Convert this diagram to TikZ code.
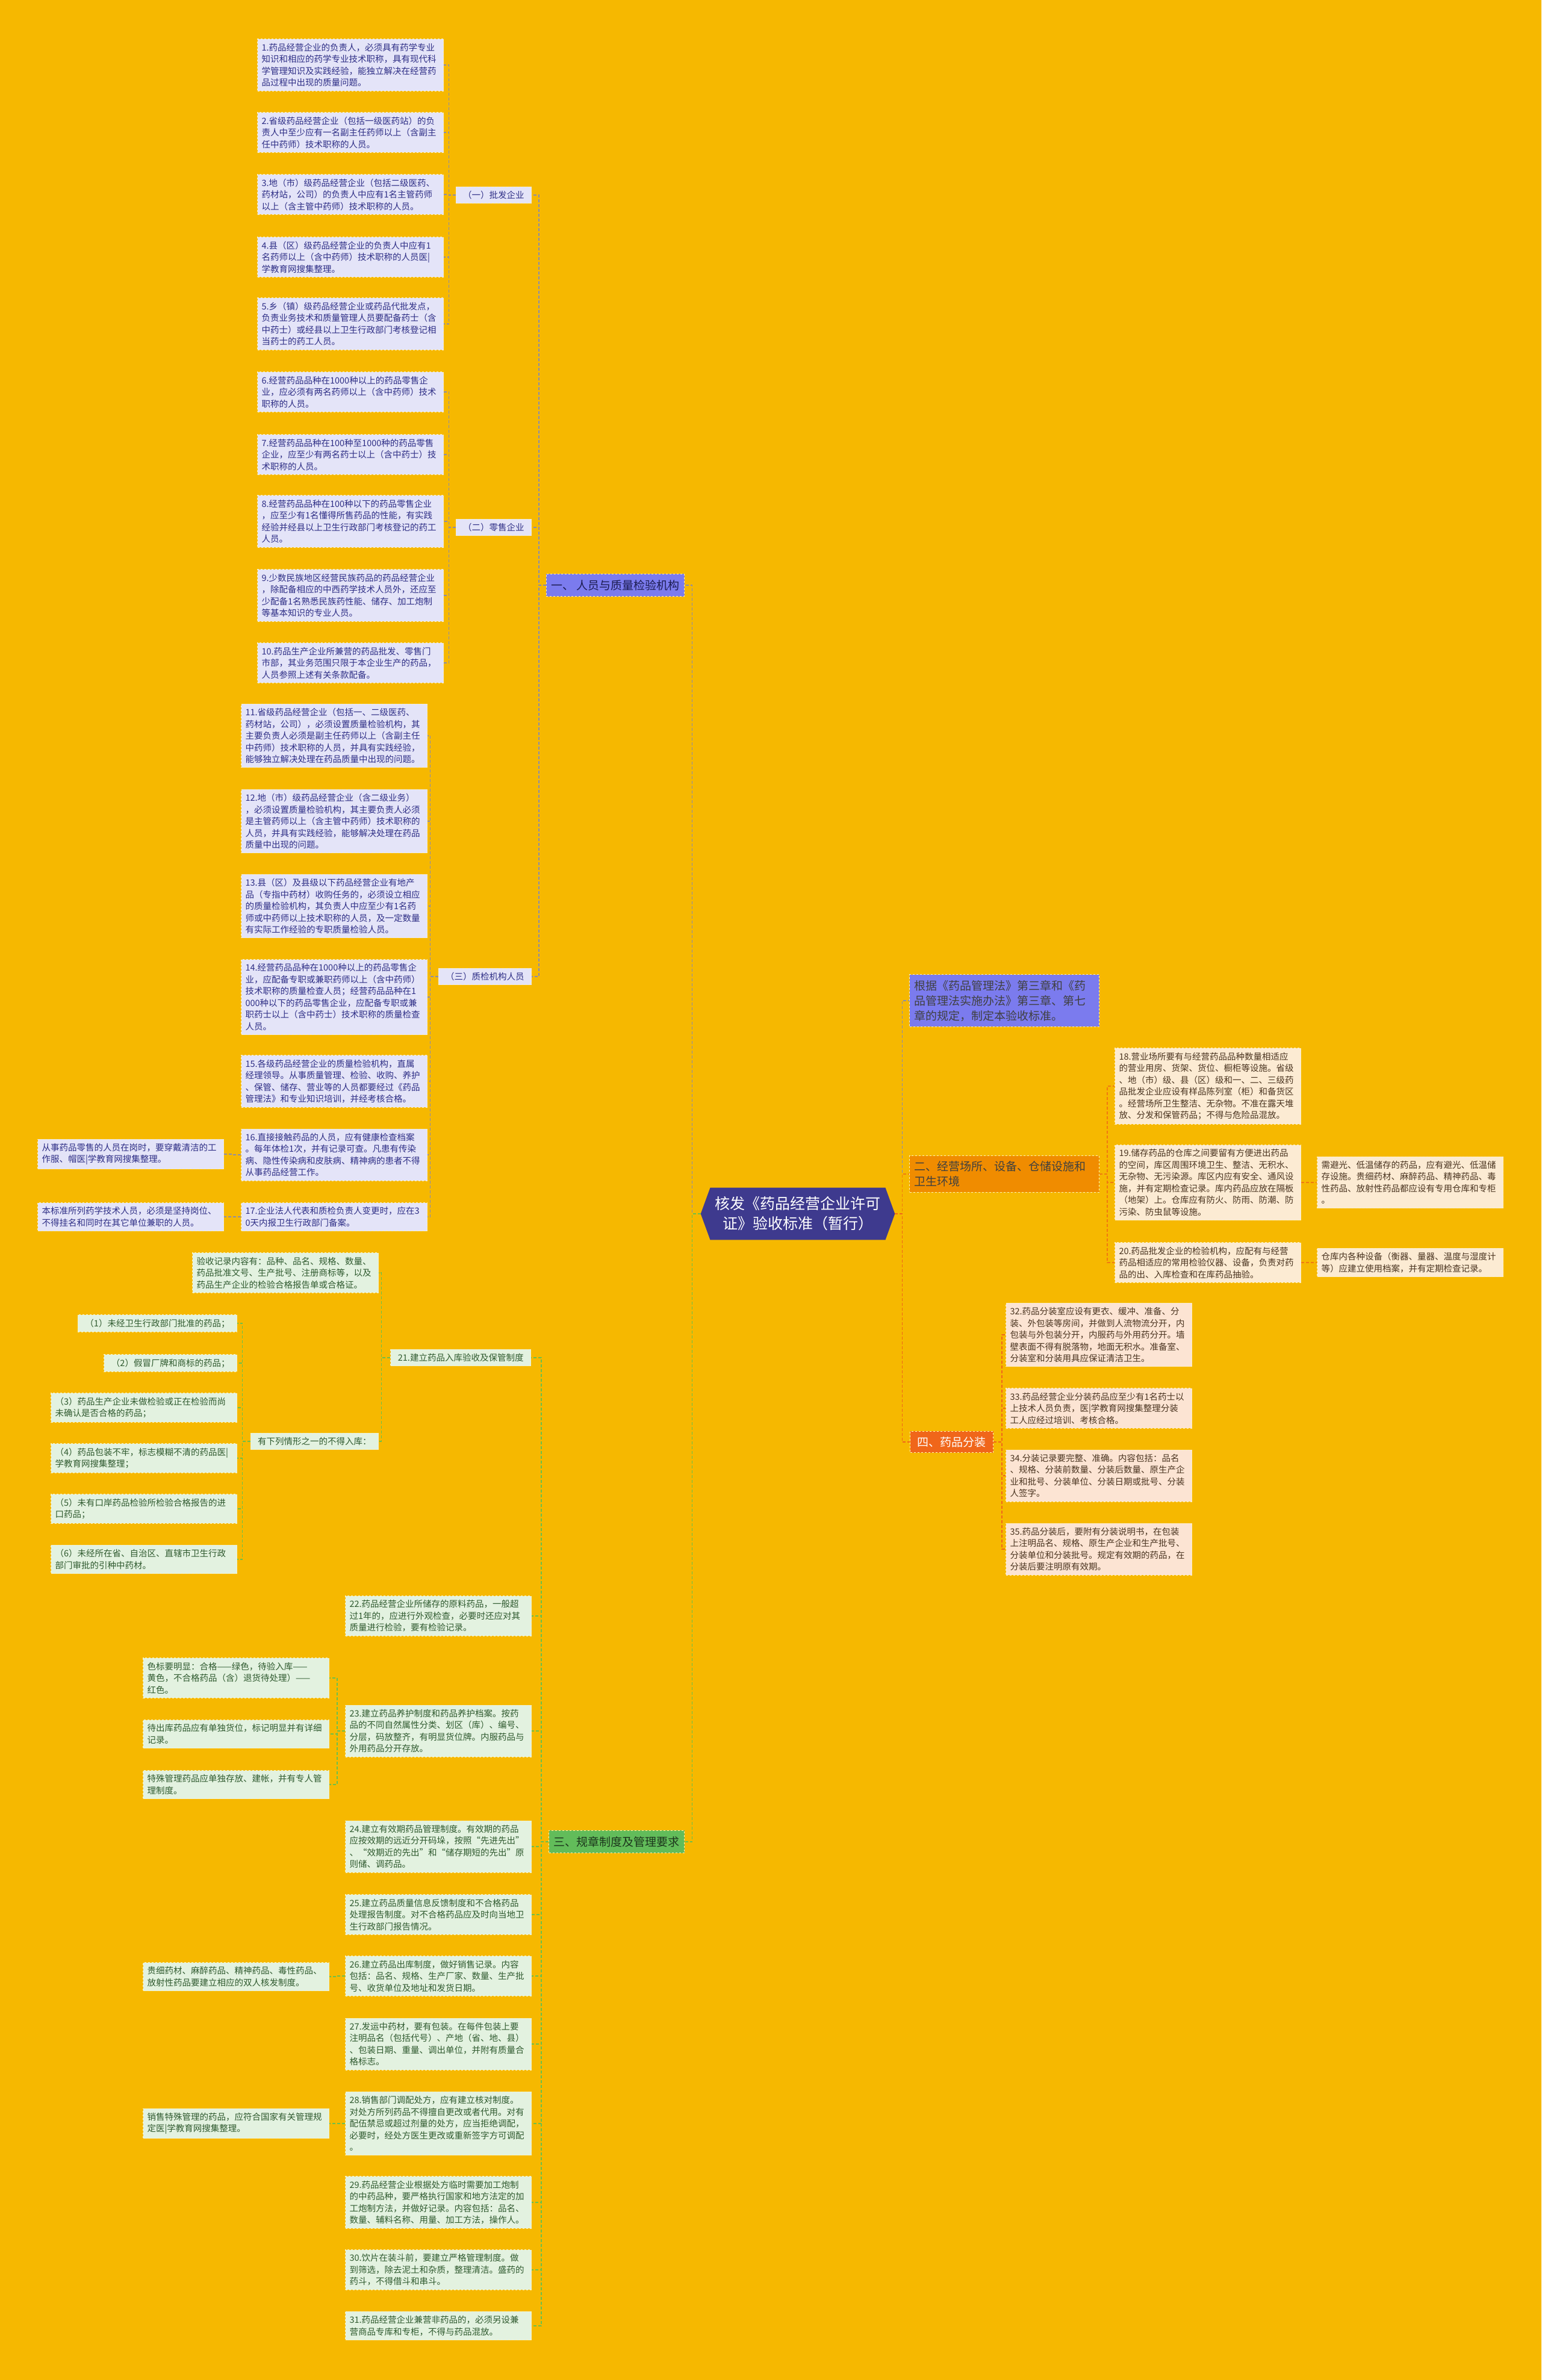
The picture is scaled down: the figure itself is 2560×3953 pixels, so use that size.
\documentclass[tikz,border=0pt]{standalone}
\usepackage{fontspec}
\setmainfont{Noto Sans CJK SC}
\definecolor{bgc}{HTML}{F6B800}
\definecolor{lavfill}{HTML}{E4E4F8}
\definecolor{lavtext}{HTML}{2E2E86}
\definecolor{peri}{HTML}{7B7BEE}
\definecolor{mintfill}{HTML}{E3F2E0}
\definecolor{minttext}{HTML}{2F5A2F}
\definecolor{greenlab}{HTML}{62BC5A}
\definecolor{creamfill}{HTML}{FCEBD3}
\definecolor{creamtext}{HTML}{4A3420}
\definecolor{peachfill}{HTML}{FCE4D3}
\definecolor{orangelab}{HTML}{F08C00}
\definecolor{redlab}{HTML}{F0661A}
\definecolor{rootc}{HTML}{3E3A8E}
\definecolor{grayline}{HTML}{8C8CAA}
\definecolor{greenline}{HTML}{6CC04A}
\definecolor{orangeline}{HTML}{F07A10}
\definecolor{boxedge}{HTML}{FFF3B8}
\usetikzlibrary{shapes.symbols}
\newcommand\boxfont{\fontsize{14.5}{19.5}\selectfont}
\newcommand\bigfont{\fontsize{19}{25}\selectfont}
\newcommand\rootfont{\fontsize{25}{33}\selectfont}
\begin{document}
\begin{tikzpicture}[x=1pt,y=-1pt]
    \tikzset{
        box/.style = {draw=boxedge, dashed, line width=1pt, font=\boxfont, align=left,
                      inner xsep=7pt, inner ysep=7pt},
        lav/.style = {box, fill=lavfill, text=lavtext, anchor=east},
        mint/.style = {box, fill=mintfill, text=minttext, anchor=east},
        cream/.style = {box, fill=creamfill, text=creamtext, anchor=west},
        peach/.style = {box, fill=peachfill, text=creamtext, anchor=west},
        wide/.style = {text width=295pt},
        sub/.style = {inner xsep=12pt, inner ysep=7pt},
        branch/.style = {font=\bigfont, inner xsep=8pt, inner ysep=10pt},
        yiline/.style = {draw=grayline, line width=1.5pt, dash pattern=on 5pt off 3pt},
        sanline/.style = {draw=greenline, line width=1.5pt, dash pattern=on 5pt off 3pt},
        erline/.style = {draw=orangeline, line width=1.5pt, dash pattern=on 5pt off 3pt},
        siline/.style = {draw=redlab, line width=1.5pt, dash pattern=on 5pt off 3pt}
    }

    \useasboundingbox (0,0) rectangle (2560,3953);
    \fill[bgc] (0,0) rectangle (2560,3953);

    % centre
    \node[signal, signal to=west and east, signal pointer angle=140, fill=rootc, text=white,
          font=\rootfont, align=center, inner xsep=8pt, inner ysep=15pt] (root) at (1325,2016)
        {核发《药品经营企业许可\\证》验收标准（暂行）};

    % one: staff
    \node[lav, branch, fill=peri, text=lavtext!60!black] (yi) at (1137,972) {一、~人员与质量检验机构};
    \node[lav, sub] (pf) at (883,324) {（一）批发企业};
    \node[lav, sub] (ls) at (883,876) {（二）零售企业};
    \node[lav, sub] (zj) at (883,1622) {（三）质检机构人员};

    \node[lav, wide] (b1) at (737,108) {1.药品经营企业的负责人，必须具有药学专业\\知识和相应的药学专业技术职称，具有现代科\\学管理知识及实践经验，能独立解决在经营药\\品过程中出现的质量问题。};
    \node[lav, wide] (b2) at (737,220) {2.省级药品经营企业（包括一级医药站）的负\\责人中至少应有一名副主任药师以上（含副主\\任中药师）技术职称的人员。};
    \node[lav, wide] (b3) at (737,323) {3.地（市）级药品经营企业（包括二级医药、\\药材站，公司）的负责人中应有1名主管药师\\以上（含主管中药师）技术职称的人员。};
    \node[lav, wide] (b4) at (737,427) {4.县（区）级药品经营企业的负责人中应有1\\名药师以上（含中药师）技术职称的人员医|\\学教育网搜集整理。};
    \node[lav, wide] (b5) at (737,538) {5.乡（镇）级药品经营企业或药品代批发点，\\负责业务技术和质量管理人员要配备药士（含\\中药士）或经县以上卫生行政部门考核登记相\\当药士的药工人员。};
    \node[lav, wide] (b6) at (737,651) {6.经营药品品种在1000种以上的药品零售企\\业，应必须有两名药师以上（含中药师）技术\\职称的人员。};
    \node[lav, wide] (b7) at (737,755) {7.经营药品品种在100种至1000种的药品零售\\企业，应至少有两名药士以上（含中药士）技\\术职称的人员。};
    \node[lav, wide] (b8) at (737,866) {8.经营药品品种在100种以下的药品零售企业\\，应至少有1名懂得所售药品的性能，有实践\\经验并经县以上卫生行政部门考核登记的药工\\人员。};
    \node[lav, wide] (b9) at (737,989) {9.少数民族地区经营民族药品的药品经营企业\\，除配备相应的中西药学技术人员外，还应至\\少配备1名熟悉民族药性能、储存、加工炮制\\等基本知识的专业人员。};
    \node[lav, wide] (b10) at (737,1101) {10.药品生产企业所兼营的药品批发、零售门\\市部，其业务范围只限于本企业生产的药品，\\人员参照上述有关条款配备。};

    \node[lav, wide] (b11) at (710,1222) {11.省级药品经营企业（包括一、二级医药、\\药材站，公司），必须设置质量检验机构，其\\主要负责人必须是副主任药师以上（含副主任\\中药师）技术职称的人员，并具有实践经验，\\能够独立解决处理在药品质量中出现的问题。};
    \node[lav, wide] (b12) at (710,1364) {12.地（市）级药品经营企业（含二级业务）\\，必须设置质量检验机构，其主要负责人必须\\是主管药师以上（含主管中药师）技术职称的\\人员，并具有实践经验，能够解决处理在药品\\质量中出现的问题。};
    \node[lav, wide] (b13) at (710,1505) {13.县（区）及县级以下药品经营企业有地产\\品（专指中药材）收购任务的，必须设立相应\\的质量检验机构，其负责人中应至少有1名药\\师或中药师以上技术职称的人员，及一定数量\\有实际工作经验的专职质量检验人员。};
    \node[lav, wide] (b14) at (710,1656) {14.经营药品品种在1000种以上的药品零售企\\业，应配备专职或兼职药师以上（含中药师）\\技术职称的质量检查人员；经营药品品种在1\\000种以下的药品零售企业，应配备专职或兼\\职药士以上（含中药士）技术职称的质量检查\\人员。};
    \node[lav, wide] (b15) at (710,1796) {15.各级药品经营企业的质量检验机构，直属\\经理领导。从事质量管理、检验、收购、养护\\、保管、储存、营业等的人员都要经过《药品\\管理法》和专业知识培训，并经考核合格。};
    \node[lav, wide] (b16) at (710,1918) {16.直接接触药品的人员，应有健康检查档案\\。每年体检1次，并有记录可查。凡患有传染\\病、隐性传染病和皮肤病、精神病的患者不得\\从事药品经营工作。};
    \node[lav, wide] (b17) at (710,2021) {17.企业法人代表和质检负责人变更时，应在3\\0天内报卫生行政部门备案。};
    \node[lav, wide] (n16) at (372,1917) {从事药品零售的人员在岗时，要穿戴清洁的工\\作服、帽医|学教育网搜集整理。};
    \node[lav, wide] (n17) at (372,2021) {本标准所列药学技术人员，必须是坚持岗位、\\不得挂名和同时在其它单位兼职的人员。};

    % three: rules
    \node[mint, branch, fill=greenlab, text=minttext!60!black] (san) at (1137,3059) {三、规章制度及管理要求};
    \node[mint, sub] (b21) at (882,2255) {21.建立药品入库验收及保管制度};
    \node[mint, wide] (yanshou) at (629,2114) {验收记录内容有：品种、品名、规格、数量、\\药品批准文号、生产批号、注册商标等，以及\\药品生产企业的检验合格报告单或合格证。};
    \node[mint, sub] (qingxing) at (629,2394) {有下列情形之一的不得入库：};
    \node[mint, sub] (q1) at (394,2198) {（1）未经卫生行政部门批准的药品；};
    \node[mint, sub] (q2) at (394,2264) {（2）假冒厂牌和商标的药品；};
    \node[mint, wide] (q3) at (394,2338) {（3）药品生产企业未做检验或正在检验而尚\\未确认是否合格的药品；};
    \node[mint, wide] (q4) at (394,2422) {（4）药品包装不牢，标志模糊不清的药品医|\\学教育网搜集整理；};
    \node[mint, wide] (q5) at (394,2506) {（5）未有口岸药品检验所检验合格报告的进\\口药品；};
    \node[mint, wide] (q6) at (394,2590) {（6）未经所在省、自治区、直辖市卫生行政\\部门审批的引种中药材。};

    \node[mint, wide] (b22) at (883,2684) {22.药品经营企业所储存的原料药品，一般超\\过1年的，应进行外观检查，必要时还应对其\\质量进行检验，要有检验记录。};
    \node[mint, wide] (b23) at (883,2875) {23.建立药品养护制度和药品养护档案。按药\\品的不同自然属性分类、划区（库）、编号、\\分层，码放整齐，有明显货位牌。内服药品与\\外用药品分开存放。};
    \node[mint, wide] (b24) at (883,3067) {24.建立有效期药品管理制度。有效期的药品\\应按效期的远近分开码垛，按照“先进先出”\\、“效期近的先出”和“储存期短的先出”原\\则储、调药品。};
    \node[mint, wide] (b25) at (883,3180) {25.建立药品质量信息反馈制度和不合格药品\\处理报告制度。对不合格药品应及时向当地卫\\生行政部门报告情况。};
    \node[mint, wide] (b26) at (883,3282) {26.建立药品出库制度，做好销售记录。内容\\包括：品名、规格、生产厂家、数量、生产批\\号、收货单位及地址和发货日期。};
    \node[mint, wide] (b27) at (883,3395) {27.发运中药材，要有包装。在每件包装上要\\注明品名（包括代号）、产地（省、地、县）\\、包装日期、重量、调出单位，并附有质量合\\格标志。};
    \node[mint, wide] (b28) at (883,3527) {28.销售部门调配处方，应有建立核对制度。\\对处方所列药品不得擅自更改或者代用。对有\\配伍禁忌或超过剂量的处方，应当拒绝调配，\\必要时，经处方医生更改或重新签字方可调配\\。};
    \node[mint, wide] (b29) at (883,3658) {29.药品经营企业根据处方临时需要加工炮制\\的中药品种，要严格执行国家和地方法定的加\\工炮制方法，并做好记录。内容包括：品名、\\数量、辅料名称、用量、加工方法，操作人。};
    \node[mint, wide] (b30) at (883,3770) {30.饮片在装斗前，要建立严格管理制度。做\\到筛选，除去泥土和杂质，整理清洁。盛药的\\药斗，不得借斗和串斗。};
    \node[mint, wide] (b31) at (883,3863) {31.药品经营企业兼营非药品的，必须另设兼\\营商品专库和专柜，不得与药品混放。};
    \node[mint, wide] (sebiao) at (547,2787) {色标要明显：合格——绿色，待验入库——\\黄色，不合格药品（含）退货待处理）——\\红色。};
    \node[mint, wide] (daichu) at (547,2880) {待出库药品应有单独货位，标记明显并有详细\\记录。};
    \node[mint, wide] (teshu) at (547,2964) {特殊管理药品应单独存放、建帐，并有专人管\\理制度。};
    \node[mint, wide] (guixi) at (547,3283) {贵细药材、麻醉药品、精神药品、毒性药品、\\放射性药品要建立相应的双人核发制度。};
    \node[mint, wide] (xiaoshou) at (547,3527) {销售特殊管理的药品，应符合国家有关管理规\\定医|学教育网搜集整理。};

    % right side
    \node[cream, fill=peri, text=black!75, font=\bigfont, text width=299pt, inner xsep=8pt, inner ysep=9pt] (genju) at (1510,1662) {根据《药品管理法》第三章和《药\\品管理法实施办法》第三章、第七\\章的规定，制定本验收标准。};
    \node[cream, fill=orangelab, text=black!75, font=\bigfont, text width=299pt, inner xsep=8pt, inner ysep=9pt] (er) at (1510,1950) {二、经营场所、设备、仓储设施和\\卫生环境};
    \node[cream, wide] (b18) at (1851,1804) {18.营业场所要有与经营药品品种数量相适应\\的营业用房、货架、货位、橱柜等设施。省级\\、地（市）级、县（区）级和一、二、三级药\\品批发企业应设有样品陈列室（柜）和备货区\\。经营场所卫生整洁、无杂物。不准在露天堆\\放、分发和保管药品；不得与危险品混放。};
    \node[cream, wide] (b19) at (1851,1964) {19.储存药品的仓库之间要留有方便进出药品\\的空间，库区周围环境卫生、整洁、无积水、\\无杂物、无污染源。库区内应有安全、通风设\\施，并有定期检查记录。库内药品应放在隔板\\（地架）上。仓库应有防火、防雨、防潮、防\\污染、防虫鼠等设施。};
    \node[cream, wide] (b20) at (1851,2097) {20.药品批发企业的检验机构，应配有与经营\\药品相适应的常用检验仪器、设备，负责对药\\品的出、入库检查和在库药品抽验。};
    \node[cream, wide] (n19) at (2187,1964) {需避光、低温储存的药品，应有避光、低温储\\存设施。贵细药材、麻醉药品、精神药品、毒\\性药品、放射性药品都应设有专用仓库和专柜\\。};
    \node[cream, wide] (n20) at (2187,2097) {仓库内各种设备（衡器、量器、温度与湿度计\\等）应建立使用档案，并有定期检查记录。};

    \node[peach, fill=redlab, text=white, font=\bigfont, inner xsep=12pt, inner ysep=9pt] (si) at (1511,2395) {四、药品分装};
    \node[peach, wide] (b32) at (1670,2217) {32.药品分装室应设有更衣、缓冲、准备、分\\装、外包装等房间，并做到人流物流分开，内\\包装与外包装分开，内服药与外用药分开。墙\\壁表面不得有脱落物，地面无积水。准备室、\\分装室和分装用具应保证清洁卫生。};
    \node[peach, wide] (b33) at (1670,2339) {33.药品经营企业分装药品应至少有1名药士以\\上技术人员负责，医|学教育网搜集整理分装\\工人应经过培训、考核合格。};
    \node[peach, wide] (b34) at (1670,2451) {34.分装记录要完整、准确。内容包括：品名\\、规格、分装前数量、分装后数量、原生产企\\业和批号、分装单位、分装日期或批号、分装\\人签字。};
    \node[peach, wide] (b35) at (1670,2573) {35.药品分装后，要附有分装说明书，在包装\\上注明品名、规格、原生产企业和生产批号、\\分装单位和分装批号。规定有效期的药品，在\\分装后要注明原有效期。};

    % connectors
    \draw[yiline] (root.west) -- ++(-14,0) |- (yi.east);
    \draw[sanline] (root.west) -- ++(-14,0) |- (san.east);
    \draw[yiline] (root.east) -- ++(12,0) |- (genju.west);
    \draw[erline] (root.east) -- ++(12,0) |- (er.west);
    \draw[siline] (root.east) -- ++(12,0) |- (si.west);

    \foreach \c in {pf,ls,zj}
        \draw[yiline] (yi.west) -- ++(-12,0) |- (\c.east);
    \foreach \c in {b1,b2,b3,b4,b5}
        \draw[yiline] (pf.west) -- ++(-11,0) |- (\c.east);
    \foreach \c in {b6,b7,b8,b9,b10}
        \draw[yiline] (ls.west) -- ++(-11,0) |- (\c.east);
    \foreach \c in {b11,b12,b13,b14,b15,b16,b17}
        \draw[yiline] (zj.west) -- ++(-13,0) |- (\c.east);
    \draw[yiline] (b16.west) -- ++(-14,0) |- (n16.east);
    \draw[yiline] (b17.west) -- ++(-14,0) |- (n17.east);

    \foreach \c in {b21,b22,b23,b24,b25,b26,b27,b28,b29,b30,b31}
        \draw[sanline] (san.west) -- ++(-12,0) |- (\c.east);
    \foreach \c in {yanshou,qingxing}
        \draw[sanline] (b21.west) -- ++(-15,0) |- (\c.east);
    \foreach \c in {q1,q2,q3,q4,q5,q6}
        \draw[sanline] (qingxing.west) -- ++(-13,0) |- (\c.east);
    \foreach \c in {sebiao,daichu,teshu}
        \draw[sanline] (b23.west) -- ++(-13,0) |- (\c.east);
    \draw[sanline] (b26.west) -- ++(-13,0) |- (guixi.east);
    \draw[sanline] (b28.west) -- ++(-13,0) |- (xiaoshou.east);

    \foreach \c in {b18,b19,b20}
        \draw[erline] (er.east) -- ++(13,0) |- (\c.west);
    \draw[erline] (b19.east) -- ++(13,0) |- (n19.west);
    \draw[erline] (b20.east) -- ++(13,0) |- (n20.west);
    \foreach \c in {b32,b33,b34,b35}
        \draw[siline] (si.east) -- ++(14,0) |- (\c.west);

\end{tikzpicture}
\end{document}
